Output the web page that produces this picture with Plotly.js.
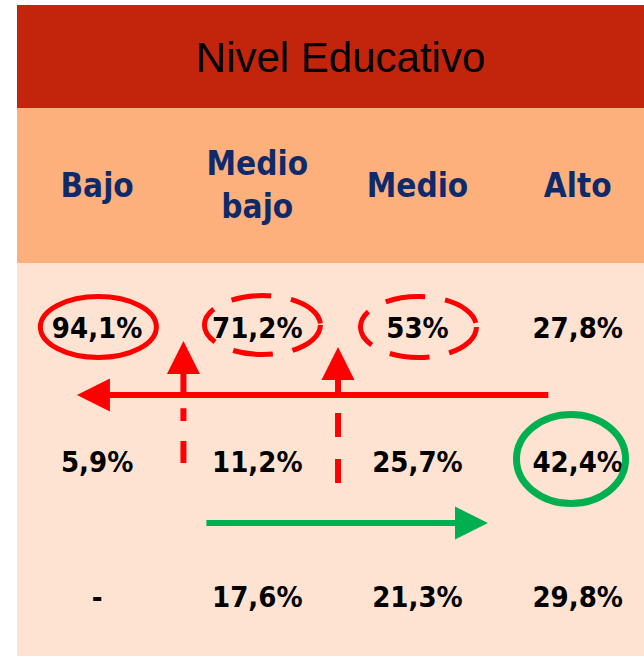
<!DOCTYPE html>
<html><head><meta charset="utf-8">
<script src="https://cdn.plot.ly/plotly-3.0.1.min.js"></script>
<style>html,body{margin:0;padding:0;background:#fff;} #chart{width:644px;height:656px;}</style>
</head><body><div id="chart"></div>
<script>
// ---- data ----
const chartTitle = 'Nivel Educativo';
const categories = ['Bajo', 'Medio bajo', 'Medio', 'Alto'];
const headerLabels = ['Bajo', 'Medio<br>bajo', 'Medio', 'Alto'];
const row1Values = [94.1, 71.2, 53, 27.8];
const row2Values = [5.9, 11.2, 25.7, 42.4];
const row3Values = [null, 17.6, 21.3, 29.8];

// ---- helpers ----
function fmt(v) {
  if (v === null || v === undefined) return '-';
  const s = Number.isInteger(v) ? String(v) : v.toFixed(1).replace('.', ',');
  return s + '%';
}
const rowsData = [row1Values, row2Values, row3Values];
const DATA_FONT = {family: 'DejaVu Sans Condensed, DejaVu Sans, sans-serif', size: 29, color: '#000000', weight: 'bold'};
const HEAD_FONT = {family: 'DejaVu Sans Condensed, DejaVu Sans, sans-serif', size: 33, color: '#0E2A6A', weight: 'bold'};
const HEADER_ROW = -1.06;

const traces = rowsData.map((vals, r) => ({
  type: 'scatter', mode: 'text',
  x: categories, y: categories.map(() => r),
  text: vals.map(fmt), textposition: 'middle center',
  textfont: DATA_FONT, hoverinfo: 'skip', showlegend: false, cliponaxis: false
}));
traces.push({
  type: 'scatter', mode: 'text',
  x: categories, y: categories.map(() => HEADER_ROW),
  text: headerLabels, textposition: 'middle center',
  textfont: HEAD_FONT, hoverinfo: 'skip', showlegend: false, cliponaxis: false
});

const RED = '#FF0000', GREEN = '#00B050';
function ellipse(col, row, l, r, t, b, color, width, dash) {
  return {type: 'circle', xref: 'x', yref: 'y', layer: 'above',
    x0: col - l, x1: col + r, y0: row - t, y1: row + b,
    line: {color: color, width: width, dash: dash || 'solid'}, fillcolor: 'rgba(0,0,0,0)'};
}
function band(y0, y1, color) {
  return {type: 'rect', xref: 'paper', yref: 'paper', layer: 'below',
    x0: 0, x1: 1, y0: y0, y1: y1, fillcolor: color, line: {width: 0}};
}
function vline(x, y0, y1, color, width, dash) {
  return {type: 'line', xref: 'x', yref: 'y', layer: 'above',
    x0: x, x1: x, y0: y0, y1: y1, line: {color: color, width: width, dash: dash}};
}
function arrow(x, y, ax, ay, color) {
  return {x: x, y: y, ax: ax, ay: ay, xref: 'x', yref: 'y', axref: 'x', ayref: 'y',
    text: '', showarrow: true, arrowhead: 2, arrowsize: 1.1, arrowwidth: 6, arrowcolor: color, standoff: 0};
}

const shapes = [
  band(0.8418, 1, '#C2250C'),
  band(0.6037, 0.8418, '#FDB07B'),
  band(0, 0.6037, '#FEE3D2'),
  ellipse(0, 0, 0.354, 0.370, 0.256, 0.198, RED, 5),
  ellipse(1, 0, 0.330, 0.394, 0.263, 0.176, RED, 5, '40px,20px'),
  ellipse(2, 0, 0.356, 0.368, 0.256, 0.198, RED, 5, '40px,20px'),
  ellipse(3, 1, 0.382, 0.299, 0.377, 0.286, GREEN, 7),
  vline(0.539, 0.984, 0.577, RED, 6, '22px,20px'),
  vline(1.504, 1.133, 0.589, RED, 6, '24px,22px')
];

const annotations = [
  arrow(-0.126, 0.477, 2.826, 0.477, RED),
  arrow(0.539, 0.075, 0.539, 0.477, RED),
  arrow(1.504, 0.120, 1.504, 0.477, RED),
  arrow(2.440, 1.431, 0.673, 1.431, GREEN)
];

const layout = {
  width: 644, height: 656,
  margin: {l: 17, r: 0, t: 5, b: 0, pad: 0},
  paper_bgcolor: '#FFFFFF', plot_bgcolor: 'rgba(0,0,0,0)',
  title: {text: chartTitle, font: {family: 'Liberation Sans, Arial, sans-serif', size: 42, color: '#000000'},
    x: 0.516, xref: 'paper', xanchor: 'center', y: 0.9123, yref: 'container', yanchor: 'middle'},
  xaxis: {type: 'category', categoryarray: categories, range: [-0.5, 3.414], visible: false, fixedrange: true},
  yaxis: {range: [2.4215, -2.4276], visible: false, fixedrange: true},
  shapes: shapes, annotations: annotations, showlegend: false
};
Plotly.newPlot('chart', traces, layout, {staticPlot: true, displayModeBar: false});
</script></body></html>
